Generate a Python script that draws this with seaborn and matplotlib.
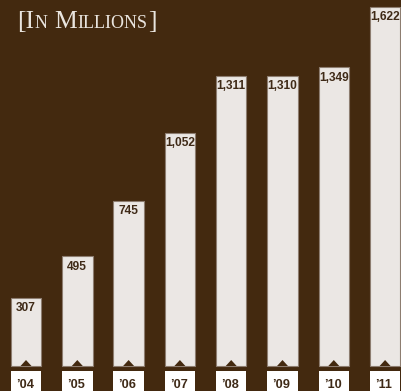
import matplotlib
matplotlib.use("Agg")
import matplotlib.pyplot as plt
from matplotlib.patches import Rectangle, Polygon
import seaborn as sns
import pandas as pd

# Yearly totals, in millions
years = ["’04", "’05", "’06", "’07", "’08", "’09", "’10", "’11"]
values = [307, 495, 745, 1052, 1311, 1310, 1349, 1622]

BG = "#43290f"
BAR = "#ebe7e4"
EDGE = "#8d7d70"
INK = "#3f2a17"
TITLE = "#e9e4de"

W, H, DPI = 401, 391, 100

sns.set_theme(style="white")
plt.rcParams["font.family"] = ["Liberation Sans", "DejaVu Sans"]

fig = plt.figure(figsize=(W / DPI, H / DPI), dpi=DPI, facecolor=BG)
ax = fig.add_axes([0, 0, 1, 1])
ax.set_facecolor(BG)

df = pd.DataFrame({"year": years, "value": values})
sns.barplot(data=df, x="year", y="value", color=BAR, saturation=1,
            width=0.595, edgecolor=EDGE, linewidth=0.8, ax=ax)

ax.set_xlim(-0.507, 7.31)
ax.set_ylim(-113, 1654)
ax.axis("off")

half = 0.595 / 2
for i, (yr, v) in enumerate(zip(years, values)):
    # value printed just inside the top of each bar
    ax.annotate(f"{v:,}", xy=(i, v), xytext=(0, -3.0), textcoords="offset points",
                ha="center", va="top", fontsize=8.6, fontweight="bold", color=INK)
    # notch at the foot of the bar
    ax.add_patch(Polygon([(i - 0.107, 0), (i + 0.107, 0), (i, 27)],
                         closed=True, facecolor=BG, edgecolor="none", zorder=5))
    # white year tab under the bar
    ax.add_patch(Rectangle((i - half, -200), 2 * half, 200 - 22.6,
                           facecolor="white", edgecolor="none", zorder=5,
                           clip_on=False))
    ax.text(i - 0.02, -99.5, yr, ha="center", va="baseline", fontsize=9.2,
            fontweight="bold", color=INK, zorder=6)


def small_caps_line(x_px, base_px, parts, big=18.5, small=13.0):
    """Lay out a line of fake small caps: (text, is_capital, gap_before_px)."""
    renderer = fig.canvas.get_renderer()
    x = x_px
    for text, is_cap, gap in parts:
        x += gap
        t = fig.text(x / W, 1 - base_px / H, text, fontsize=big if is_cap else small,
                     family=["Liberation Serif", "DejaVu Serif"], color=TITLE,
                     ha="left", va="baseline")
        x += t.get_window_extent(renderer).width


small_caps_line(17, 0.4, [("P", True, 0), ("ER", False, 0.5),
                          ("Y", True, 6.5), ("EAR", False, 0.5)])
small_caps_line(17, 27.7, [("[I", True, 0), ("N", False, 0.5),
                           ("M", True, 6.5), ("ILLIONS", False, 0.5),
                           ("]", True, 0.5)])

fig.savefig("out.png", dpi=DPI, facecolor=BG)
